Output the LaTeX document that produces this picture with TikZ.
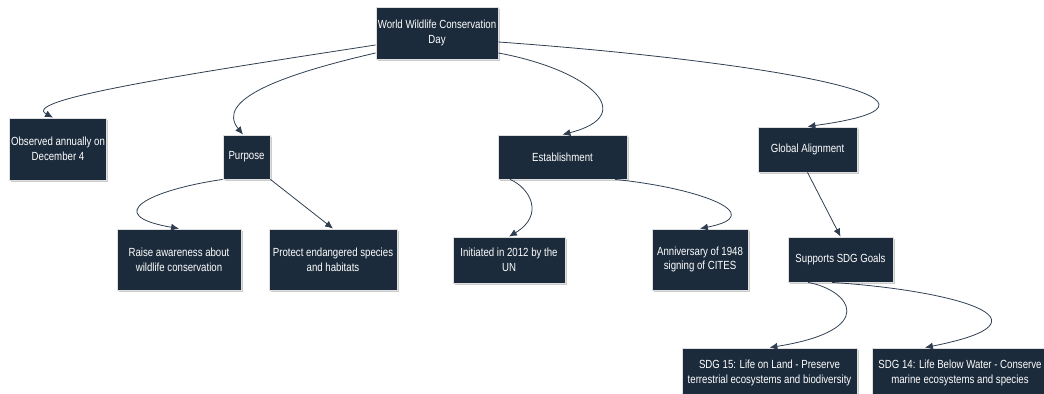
\documentclass[tikz,border=0pt]{standalone}
\usepackage{fontspec}
\setmainfont[FakeStretch=0.82]{Liberation Sans}
\usetikzlibrary{arrows.meta,shadows}
\definecolor{navy}{HTML}{1B2B3B}
\definecolor{edgecol}{HTML}{2E3E50}
\begin{document}
\begin{tikzpicture}[x=0.02cm,y=-0.02cm,>={Latex[length=4.5pt,width=4pt]},
    cbox/.style={fill=navy,draw=gray!25,line width=0.5pt,text=white,align=center,
      inner sep=0pt,font=\fontsize{6.7}{8.4}\selectfont,
      drop shadow={shadow xshift=0.9pt,shadow yshift=-0.9pt,fill=black!40,opacity=0.5}},
    link/.style={->,draw=edgecol,line width=0.45pt}]
      \useasboundingbox (0,0) rectangle (1044,394) ;
      \node[cbox,minimum width=2.44cm,minimum height=1.04cm] (root) at (437,33) {World Wildlife Conservation\\Day} ;
      \node[cbox,minimum width=1.94cm,minimum height=1.24cm] (obs) at (58,149) {Observed annually on\\December 4} ;
      \node[cbox,minimum width=0.94cm,minimum height=0.88cm] (purpose) at (246.5,157) {Purpose} ;
      \node[cbox,minimum width=2.58cm,minimum height=0.88cm] (estab) at (562.5,157) {Establishment} ;
      \node[cbox,minimum width=1.98cm,minimum height=0.9cm] (global) at (807.5,149.5) {Global Alignment} ;
      \node[cbox,minimum width=2.48cm,minimum height=1.22cm] (raise) at (179,259.5) {Raise awareness about\\wildlife conservation} ;
      \node[cbox,minimum width=2.56cm,minimum height=1.22cm] (protect) at (333,259.5) {Protect endangered species\\and habitats} ;
      \node[cbox,minimum width=2.24cm,minimum height=0.92cm] (init) at (509,260) {Initiated in 2012 by the\\UN} ;
      \node[cbox,minimum width=1.92cm,minimum height=1.22cm] (anniv) at (700,259.5) {Anniversary of 1948\\signing of CITES} ;
      \node[cbox,minimum width=2.1cm,minimum height=0.9cm] (sdg) at (840.5,259.5) {Supports SDG Goals} ;
      \node[cbox,minimum width=3.5cm,minimum height=1cm] (land) at (769.5,373) {SDG 15: Life on Land - Preserve\\terrestrial ecosystems and biodiversity} ;
      \node[cbox,minimum width=3.5cm,minimum height=1cm] (water) at (960,373) {SDG 14: Life Below Water - Conserve\\marine ecosystems and species} ;
      \draw[link] ([yshift=-0.24cm]root.west) .. controls (180,75) and (20,100) .. ([xshift=-0.1cm]obs.north) ;
      \draw[link] ([yshift=-0.4cm]root.west) .. controls (280,75) and (215,100) .. ([xshift=-0.07cm]purpose.north) ;
      \draw[link] ([yshift=-0.4cm]root.east) .. controls (590,70) and (640,115) .. (estab.north) ;
      \draw[link] ([yshift=-0.18cm]root.east) .. controls (750,60) and (1000,100) .. (global.north) ;
      \draw[link] (purpose.south west) .. controls (150,190) and (100,215) .. (raise.north) ;
      \draw[link] (purpose.south east) -- (protect.north) ;
      \draw[link] ([xshift=-1.05cm]estab.south) .. controls (530,188) and (545,215) .. (init.north) ;
      \draw[link] ([xshift=1.05cm]estab.south) .. controls (700,188) and (770,215) .. (anniv.north) ;
      \draw[link] (global.south) -- (sdg.north) ;
      \draw[link] ([xshift=-0.65cm]sdg.south) .. controls (850,290) and (880,330) .. (land.north) ;
      \draw[link] ([xshift=-0.17cm]sdg.south) .. controls (950,290) and (1065,320) .. ([xshift=-0.7cm]water.north) ;
\end{tikzpicture}
\end{document}
